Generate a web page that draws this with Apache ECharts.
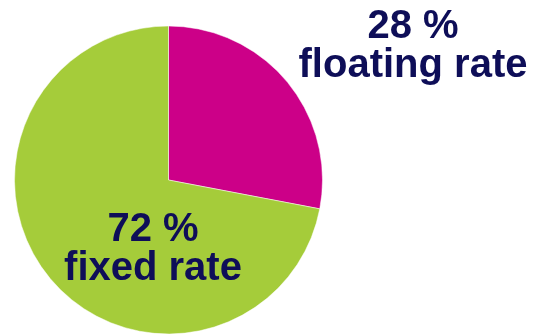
<!DOCTYPE html>
<html>
<head>
<meta charset="utf-8">
<script src="https://cdn.jsdelivr.net/npm/echarts@6/dist/echarts.min.js"></script>
<style>
html,body{margin:0;padding:0;background:#fff;}
#chart{width:538px;height:335px;}
</style>
</head>
<body>
<div id="chart"></div>
<script>
// share of rates
var names = ['floating rate', 'fixed rate'];
var values = [28, 72];
var colors = ['#CC0088', '#A5CC3A'];
// where each label block sits (centre)
var labelPos = [[413, 46], [153, 249]];

var myEchart = echarts.init(document.getElementById('chart'));
var pieData = [];
names.forEach(function(n, i) {
    pieData.push({ name: n, value: values[i], itemStyle: { color: colors[i] } });
});

var option = {
    animation: false,
    series: [{
        type: 'pie',
        center: [168.5, 180],
        radius: 154,
        startAngle: 90,
        clockwise: true,
        data: pieData,
        itemStyle: {
            borderColor: '#ffffff',
            borderWidth: 0.5
        },
        label: {
            show: true,
            position: 'inside',
            formatter: '{c} %\n{b}',
            color: '#0E0E58',
            fontFamily: 'Liberation Sans, Arial, sans-serif',
            fontWeight: 'bold',
            fontSize: 40,
            lineHeight: 39,
            align: 'center',
            verticalAlign: 'middle'
        },
        labelLine: { show: false },
        labelLayout: function(params) {
            var p = labelPos[params.dataIndex];
            return { x: p[0], y: p[1], align: 'center', verticalAlign: 'middle' };
        },
        emphasis: { disabled: true }
    }]
};
myEchart.setOption(option);
</script>
</body>
</html>
